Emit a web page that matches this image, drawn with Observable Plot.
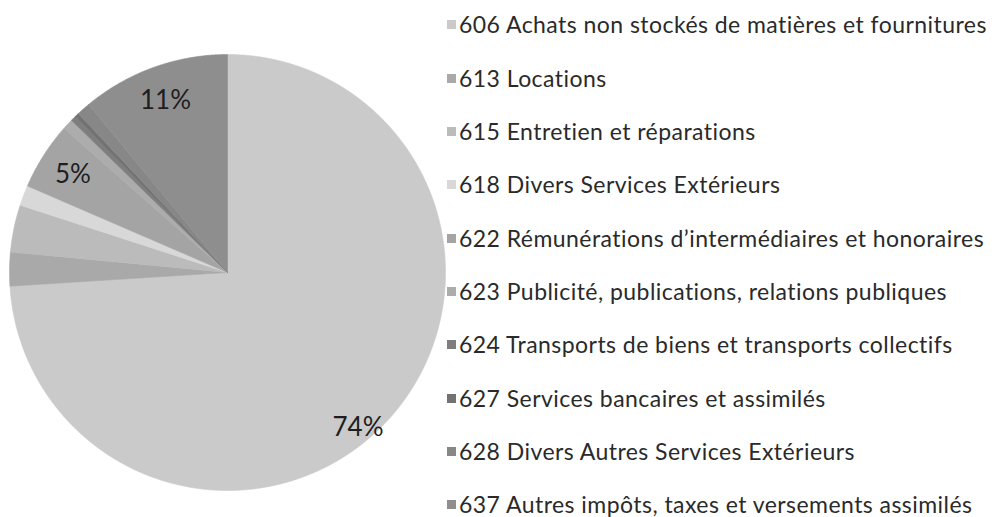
<!DOCTYPE html>
<html>
<head>
<meta charset="utf-8">
<script src="https://cdn.jsdelivr.net/npm/d3@7"></script>
<script src="https://cdn.jsdelivr.net/npm/@observablehq/plot@0.6"></script>
<style>
  html, body { margin: 0; padding: 0; background: #fff; }
  #wrap { position: relative; width: 999px; height: 517px; overflow: hidden; font-family: Lato, "Open Sans", sans-serif; }
  #pie { position: absolute; left: 0; top: 0; }
  #legend { position: absolute; left: 447px; top: -1.7px; }
  .row { height: 53.33px; line-height: 53.33px; white-space: nowrap; font-size: 23px; letter-spacing: 0.45px; color: #2a2a2a; display: flex; align-items: center; }
  .sw { width: 9px; height: 9px; margin-right: 3px; display: inline-block; }
</style>
</head>
<body>
<div id="wrap">
  <div id="pie"></div>
  <div id="legend"></div>
</div>
<script>
const categories = [
  "606 Achats non stockés de matières et fournitures",
  "613 Locations",
  "615 Entretien et réparations",
  "618 Divers Services Extérieurs",
  "622 Rémunérations d\u2019intermédiaires et honoraires",
  "623 Publicité, publications, relations publiques",
  "624 Transports de biens et transports collectifs",
  "627 Services bancaires et assimilés",
  "628 Divers Autres Services Extérieurs",
  "637 Autres impôts, taxes et versements assimilés"
];
const values = [74, 2.5, 3.5, 1.5, 5, 0.8, 0.4, 0.3, 1, 11];
const labels = ["74%", "", "", "", "5%", "", "", "", "", "11%"];
const colors = ["#cacaca", "#a9a9a9", "#bbbbbb", "#d8d8d8", "#a4a4a4", "#acacac", "#7e7e7e", "#727272", "#878787", "#8e8e8e"];

const data = categories.map((c, i) => ({key: c, value: values[i], label: labels[i]}));
const arcs = d3.pie().value(d => d.value).sort(null).startAngle(0).endAngle(2 * Math.PI)(data);

// polygon vertices for each slice (unit circle, clockwise from top)
const pts = [];
for (const a of arcs) {
  const k = a.data.key;
  pts.push({key: k, x: 0, y: 0});
  const n = Math.max(2, Math.ceil((a.endAngle - a.startAngle) / 0.005));
  for (let j = 0; j <= n; j++) {
    const t = a.startAngle + (a.endAngle - a.startAngle) * j / n;
    pts.push({key: k, x: Math.sin(t), y: Math.cos(t)});
  }
  pts.push({key: k, x: 0, y: 0});
}
const labelR = 0.84;
const labelData = arcs.filter(a => a.data.label).map(a => {
  const m = (a.startAngle + a.endAngle) / 2;
  return {label: a.data.label, x: labelR * Math.sin(m), y: labelR * Math.cos(m), big: a.data.value > 50};
});

const R = 218, cx = 227, cy = 272;
const chart = Plot.plot({
  width: 450,
  height: 517,
  margin: 0,
  x: {domain: [-1, 1], range: [cx - R, cx + R], axis: null},
  y: {domain: [-1, 1], range: [cy + R, cy - R], axis: null},
  color: {domain: categories, range: colors},
  style: {background: "transparent"},
  marks: [
    Plot.line(pts, {x: "x", y: "y", z: "key", fill: "key", stroke: "key", strokeWidth: 0.6, curve: "linear"}),
    Plot.text(labelData.filter(d => !d.big), {x: "x", y: "y", text: "label", fontSize: 26, fill: "#1e1e1e", fontFamily: "Lato, 'Open Sans', sans-serif"}),
    Plot.text(labelData.filter(d => d.big), {x: "x", y: "y", text: "label", fontSize: 26, fill: "#1e1e1e", dx: -3, dy: 30, fontFamily: "Lato, 'Open Sans', sans-serif"})
  ]
});
document.getElementById("pie").appendChild(chart);

const leg = document.getElementById("legend");
categories.forEach((c, i) => {
  const row = document.createElement("div");
  row.className = "row";
  const sw = document.createElement("span");
  sw.className = "sw";
  sw.style.background = colors[i];
  row.appendChild(sw);
  const t = document.createElement("span");
  t.textContent = c;
  row.appendChild(t);
  leg.appendChild(row);
});
</script>
</body>
</html>
